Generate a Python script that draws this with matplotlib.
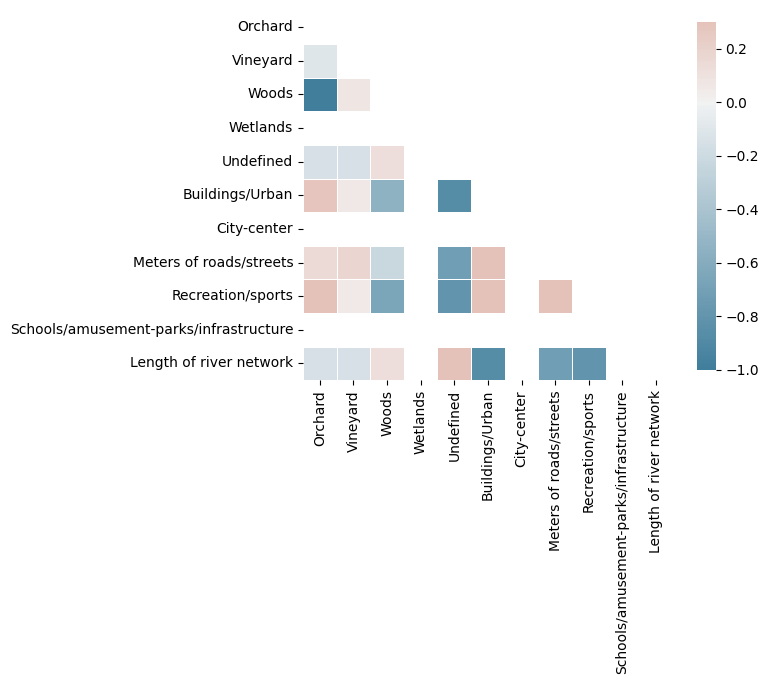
import matplotlib
matplotlib.use("Agg")
import matplotlib.pyplot as plt
import seaborn as sns
import numpy as np
import pandas as pd

labels = ["Orchard", "Vineyard", "Woods", "Wetlands", "Undefined", "Buildings/Urban",
          "City-center", "Meters of roads/streets", "Recreation/sports",
          "Schools/amusement-parks/infrastructure", "Length of river network"]

nan = np.nan
# lower-triangle correlations, one list per row (values left of the diagonal)
rows = [
    [],
    [-0.10],
    [-1.00, 0.08],
    [nan, nan, nan],
    [-0.15, -0.15, 0.12],
    [0.28, 0.06, -0.55, nan, -0.88],
    [nan, nan, nan, nan, nan, nan],
    [0.15, 0.18, -0.22, nan, -0.72, 0.30],
    [0.30, 0.05, -0.66, nan, -0.80, 0.30, nan, 0.30],
    [nan, nan, nan, nan, nan, nan, nan, nan, nan],
    [-0.15, -0.15, 0.12, nan, 0.30, -0.88, nan, -0.72, -0.80, nan],
]

n = len(labels)
mat = np.full((n, n), np.nan)
for i, r in enumerate(rows):
    for j, v in enumerate(r):
        mat[i, j] = v
        mat[j, i] = v
corr = pd.DataFrame(mat, index=labels, columns=labels)

mask = np.triu(np.ones_like(corr, dtype=bool))
cmap = sns.diverging_palette(230, 20, as_cmap=True)

fig = plt.figure(figsize=(7.69, 6.85), dpi=100)
ax = fig.add_axes([0.394, 0.444, 0.481, 0.5416])
cax = fig.add_axes([0.906, 0.460, 0.0247, 0.508])
sns.heatmap(corr, mask=mask, cmap=cmap, vmax=.3, center=0, square=True,
            linewidths=.5, ax=ax, cbar_ax=cax)
cax.tick_params(labelsize=10)

fig.savefig("out.png", dpi=100)
